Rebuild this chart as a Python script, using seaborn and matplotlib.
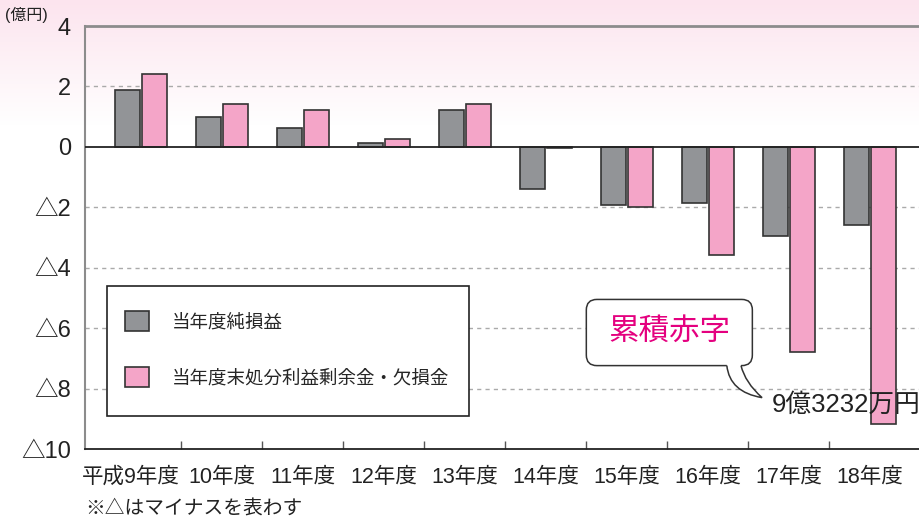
import numpy as np
import pandas as pd
import seaborn as sns
import matplotlib.pyplot as plt
from matplotlib.patches import FancyBboxPatch, PathPatch, Rectangle
from matplotlib.path import Path
from matplotlib.transforms import ScaledTranslation

# data (億円)
years = ["平成9年度", "10年度", "11年度", "12年度", "13年度",
         "14年度", "15年度", "16年度", "17年度", "18年度"]
net_profit = [1.88, 1.0, 0.61, 0.12, 1.22, -1.39, -1.91, -1.86, -2.94, -2.59]
retained = [2.41, 1.41, 1.21, 0.25, 1.41, -0.05, -1.98, -3.59, -6.78, -9.17]
series_names = ["当年度純損益", "当年度末処分利益剰余金・欠損金"]
y_ticks = [4, 2, 0, -2, -4, -6, -8, -10]
y_ticklabels = ["4", "2", "0", "△2", "△4", "△6", "△8", "△10"]

sns.set_theme(style="white")
plt.rcParams["font.family"] = ["Liberation Sans", "Noto Sans CJK JP", "DejaVu Sans"]

df = pd.DataFrame({
    "year": years * 2,
    "value": net_profit + retained,
    "series": [series_names[0]] * len(years) + [series_names[1]] * len(years),
})

W, H = 920, 522
fig = plt.figure(figsize=(W / 100, H / 100), dpi=100)
fig.patch.set_facecolor("white")

# pink gradient at the top of the figure
bg = fig.add_axes([0, 0, 1, 1], zorder=-1)
top = np.array([252, 228, 238]) / 255
t = np.clip(np.linspace(0, 1, H) / (125 / H), 0, 1)[:, None]
grad = top * (1 - t) + np.ones(3) * t
bg.imshow(grad[:, None, :], aspect="auto", extent=[0, 1, 0, 1])
bg.axis("off")

ax = fig.add_axes([85 / W, (H - 449) / H, (W - 85) / W, 423 / H])
ax.patch.set_alpha(0)

sns.barplot(data=df, x="year", y="value", hue="series",
            palette=["#929497", "#f4a5c8"], width=0.66, gap=0.06,
            edgecolor="#333333", linewidth=1.2, saturation=1, ax=ax, zorder=3)

ax.set_xlim(-0.69, 9.62)
ax.set_ylim(-10, 4)
ax.set_xlabel("")
ax.set_ylabel("")

# grid and zero line
for y in [2, -2, -4, -6, -8]:
    ax.axhline(y, color="#aaaaaa", lw=1, ls=(0, (3, 3)), zorder=1)
ax.axhline(0, color="#222222", lw=1.3, zorder=4)

ax.set_yticks(y_ticks)
ax.set_yticklabels(y_ticklabels)
ax.tick_params(axis="y", length=0, pad=10, labelsize=17, labelcolor="#222222")

ax.set_xticks(range(len(years)))
ax.set_xticklabels(years)
ax.set_xticks(np.arange(len(years) - 1) + 0.5, minor=True)
ax.tick_params(axis="x", which="major", length=0, pad=13, labelsize=15.5,
               labelcolor="#222222")
ax.tick_params(axis="x", which="minor", direction="in", length=6, width=1,
               color="#555555", bottom=True)
first = ax.get_xticklabels()[0]
first.set_transform(first.get_transform()
                    + ScaledTranslation(-0.1, 0, fig.dpi_scale_trans))

for side in ["top", "left"]:
    ax.spines[side].set_color("#8c8c8c")
ax.spines["top"].set_linewidth(2)
ax.spines["left"].set_linewidth(1.5)
ax.spines["bottom"].set_color("#222222")
ax.spines["bottom"].set_linewidth(1.3)
ax.spines["right"].set_visible(False)

# legend: frame drawn separately for exact padding
frame = Rectangle((107 / W, 1 - 416 / H), 362 / W, 130 / H,
                  transform=fig.transFigure, fc="white", ec="#222222", lw=1.2,
                  zorder=5, clip_on=False)
ax.add_artist(frame)
handles, labels = ax.get_legend_handles_labels()
leg = ax.legend(handles, labels, loc="upper left",
                bbox_to_anchor=(125 / W, 1 - 311 / H), bbox_transform=fig.transFigure,
                frameon=False, fontsize=13.3, borderpad=0, borderaxespad=0,
                handlelength=1.3, handleheight=1.3, handletextpad=1.25,
                labelspacing=1.95)
leg.set_zorder(6)
for h in leg.legend_handles:
    h.set_edgecolor("#333333")
    h.set_linewidth(1.2)

# callout balloon
aspect = (1 / 30.2) / (1 / 81)
box = FancyBboxPatch((5.5, -7.24), 2.05, 2.19,
                     boxstyle="round,pad=0,rounding_size=0.13",
                     mutation_aspect=aspect, fc="white", ec="#333333", lw=1.1,
                     zorder=6)
ax.add_patch(box)
bl, br, tip = (7.235, -7.24), (7.41, -7.24), (7.67, -8.3)
cl, cr = (7.27, -8.12), (7.46, -7.8)
fill = Path([(bl[0], -7.1), bl, cl, tip, cr, br, (br[0], -7.1), (bl[0], -7.1)],
            [Path.MOVETO, Path.LINETO, Path.CURVE3, Path.CURVE3, Path.CURVE3,
             Path.CURVE3, Path.LINETO, Path.CLOSEPOLY])
ax.add_patch(PathPatch(fill, fc="white", ec="none", zorder=7))
edge = Path([bl, cl, tip, cr, br],
            [Path.MOVETO, Path.CURVE3, Path.CURVE3, Path.CURVE3, Path.CURVE3])
ax.add_patch(PathPatch(edge, fc="none", ec="#333333", lw=1.1, zorder=8))
ax.text(6.53, -6.12, "累積赤字", color="#e4007f", fontsize=22,
        ha="center", va="center", zorder=9)
ax.text(7.79, -8.55, "9億3232万円", color="#222222", fontsize=18.5,
        ha="left", va="center", zorder=9)

fig.text(5 / W, 1 - 15 / H, "(億円)", fontsize=11.5, color="#222222",
         ha="left", va="center")
fig.text(85 / W, 1 - 509 / H, "※△はマイナスを表わす", fontsize=14.2,
         color="#222222", ha="left", va="center")

fig.savefig("out.png", dpi=100)
